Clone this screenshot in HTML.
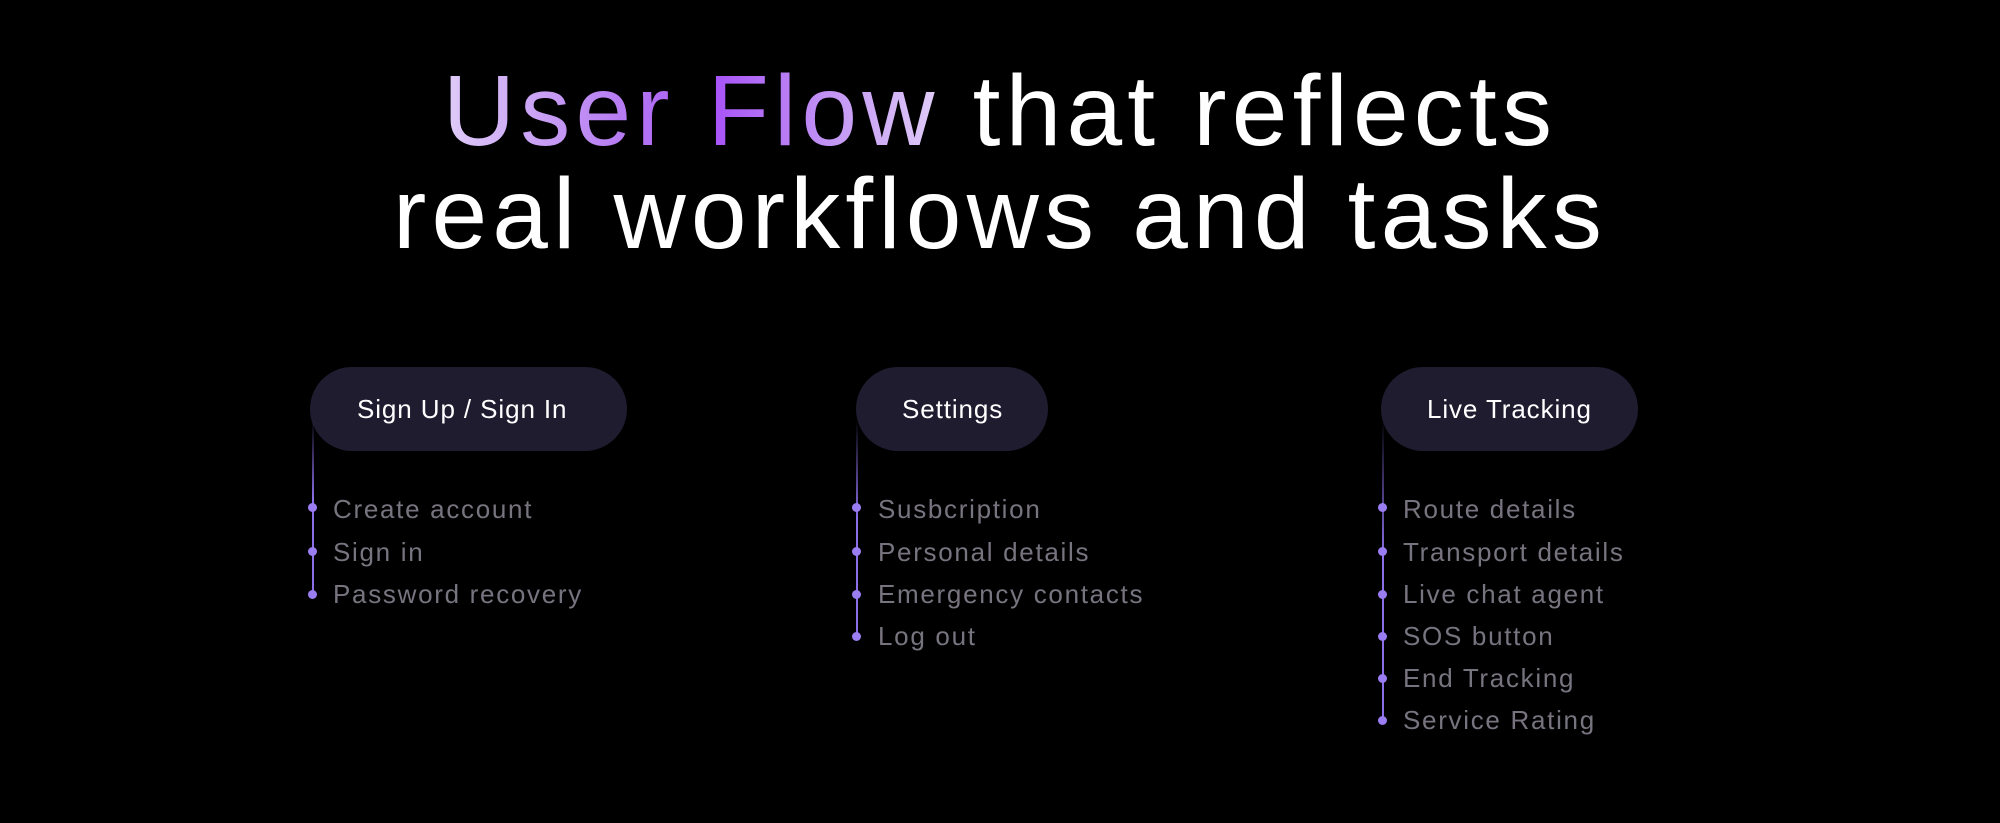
<!DOCTYPE html>
<html><head><meta charset="utf-8"><style>
html,body{margin:0;padding:0;background:#000;}
body{width:2000px;height:823px;position:relative;overflow:hidden;font-family:"Liberation Sans",sans-serif;}
.title{position:absolute;left:0;width:2000px;text-align:center;color:#fff;font-size:100px;line-height:103px;top:60px;letter-spacing:5.2px;}
.grad{background:linear-gradient(90deg,#e0cdf9 0%,#b77df2 35%,#a855f7 55%,#c59af4 80%,#e0cdf9 100%);-webkit-background-clip:text;background-clip:text;color:transparent;}
.pill{position:absolute;top:367px;height:84px;border-radius:42px;background:#1f1c30;color:#fff;font-size:26px;line-height:84px;box-sizing:border-box;letter-spacing:0.9px;}
.line{position:absolute;width:2px;background:linear-gradient(180deg,rgba(139,111,232,0) 0%,#8b6fe8 45%,#8b6fe8 100%);}
.dot{position:absolute;width:9px;height:9px;border-radius:50%;background:#9b7df2;}
.item{position:absolute;color:#78747f;font-size:26px;line-height:30px;height:30px;white-space:nowrap;letter-spacing:1.7px;}
</style></head><body>
<div class="title"><span class="grad">User Flow</span> that reflects<br>real workflows and tasks</div>

<div class="pill" style="left:310px;width:317px;padding-left:47px;">Sign Up / Sign In</div>
<div class="pill" style="left:856px;width:192px;padding-left:46px;">Settings</div>
<div class="pill" style="left:1381px;width:257px;padding-left:46px;">Live Tracking</div>

<div class="line" style="left:312px;top:420px;height:175px;"></div>
<div class="line" style="left:856px;top:420px;height:217px;"></div>
<div class="line" style="left:1382px;top:420px;height:301px;"></div>

<div class="dot" style="left:308px;top:503px"></div><div class="item" style="left:333px;top:494px">Create account</div>
<div class="dot" style="left:308px;top:547px"></div><div class="item" style="left:333px;top:537px">Sign in</div>
<div class="dot" style="left:308px;top:590px"></div><div class="item" style="left:333px;top:579px">Password recovery</div>

<div class="dot" style="left:852px;top:503px"></div><div class="item" style="left:878px;top:494px">Susbcription</div>
<div class="dot" style="left:852px;top:547px"></div><div class="item" style="left:878px;top:537px">Personal details</div>
<div class="dot" style="left:852px;top:590px"></div><div class="item" style="left:878px;top:579px">Emergency contacts</div>
<div class="dot" style="left:852px;top:632px"></div><div class="item" style="left:878px;top:621px">Log out</div>

<div class="dot" style="left:1378px;top:503px"></div><div class="item" style="left:1403px;top:494px">Route details</div>
<div class="dot" style="left:1378px;top:547px"></div><div class="item" style="left:1403px;top:537px">Transport details</div>
<div class="dot" style="left:1378px;top:590px"></div><div class="item" style="left:1403px;top:579px">Live chat agent</div>
<div class="dot" style="left:1378px;top:632px"></div><div class="item" style="left:1403px;top:621px">SOS button</div>
<div class="dot" style="left:1378px;top:674px"></div><div class="item" style="left:1403px;top:663px">End Tracking</div>
<div class="dot" style="left:1378px;top:716px"></div><div class="item" style="left:1403px;top:705px">Service Rating</div>
</body></html>
